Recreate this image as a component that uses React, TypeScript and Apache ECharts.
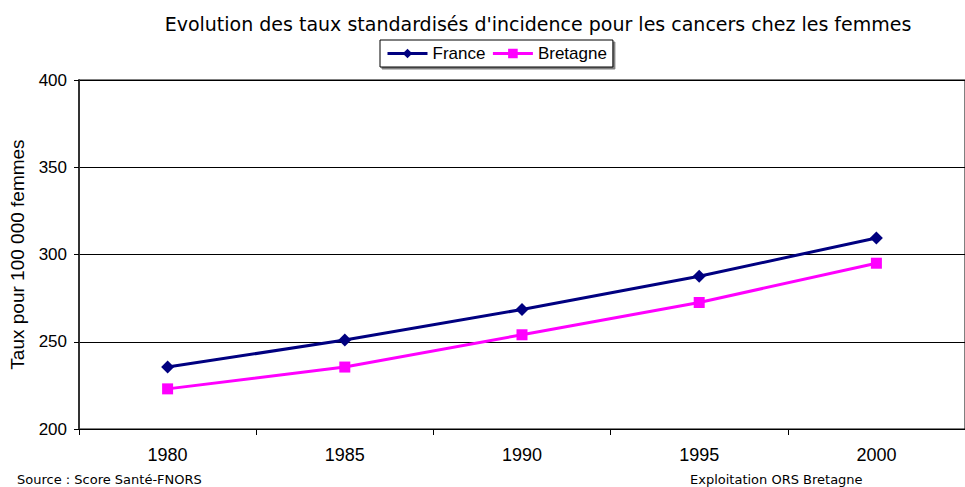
import React, { useEffect, useRef } from "react";
import * as echarts from "echarts";

const years = ["1980", "1985", "1990", "1995", "2000"];
const france = [235.5, 251, 268.5, 287.5, 309.5];
const bretagne = [223, 235.5, 254, 272.5, 295];
const yTicks = { min: 200, max: 400, interval: 50 };

export default function App() {
  const ref = useRef<HTMLDivElement>(null);
  useEffect(() => {
    const chart = echarts.init(ref.current!, null, { renderer: "svg" });
    chart.setOption({
      animation: false,
      backgroundColor: "#ffffff",
      title: {
        text: "Evolution des taux standardisés d'incidence pour les cancers chez les femmes",
        left: 533,
        textAlign: "center",
        top: 9,
        textStyle: { fontFamily: "DejaVu Sans", fontSize: 19, fontWeight: "normal", color: "#000" },
      },
      legend: {
        left: 380,
        top: 40,
        itemWidth: 40,
        itemHeight: 12,
        itemGap: 6,
        padding: [5, 6, 5, 6],
        borderColor: "#000",
        borderWidth: 1,
        shadowColor: "rgba(0,0,0,0.5)",
        shadowOffsetX: 2,
        shadowOffsetY: 2,
        backgroundColor: "#fff",
        lineStyle: { width: 3 },
        textStyle: { fontFamily: "Liberation Sans", fontSize: 17, color: "#000" },
        data: ["France", "Bretagne"],
      },
      graphic: [
        {
          type: "text",
          left: 17,
          top: 473,
          style: { text: "Source : Score Santé-FNORS", font: "13px 'DejaVu Sans'", fill: "#000" },
        },
        {
          type: "text",
          left: 690,
          top: 473,
          style: { text: "Exploitation ORS Bretagne", font: "13px 'DejaVu Sans'", fill: "#000" },
        },
      ],
      grid: { left: 77, top: 80, width: 892, height: 349, show: true, borderColor: "#000", borderWidth: 1 },
      xAxis: {
        type: "category",
        data: years,
        boundaryGap: true,
        axisLine: { lineStyle: { color: "#000", width: 1 } },
        axisTick: { show: true, interval: 0, length: 6, lineStyle: { color: "#000" } },
        axisLabel: { interval: 0, margin: 17, fontFamily: "Liberation Sans", fontSize: 18, color: "#000" },
      },
      yAxis: {
        type: "value",
        min: yTicks.min,
        max: yTicks.max,
        interval: yTicks.interval,
        name: "Taux pour 100 000 femmes",
        nameLocation: "middle",
        nameGap: 52,
        nameRotate: 90,
        nameTextStyle: { fontFamily: "Liberation Sans", fontSize: 19, color: "#000" },
        axisLine: { show: true, lineStyle: { color: "#333", width: 2 } },
        axisTick: { show: true, length: 5, lineStyle: { color: "#000" } },
        axisLabel: { margin: 12, fontFamily: "Liberation Sans", fontSize: 17, color: "#000" },
        splitLine: { show: true, lineStyle: { color: "#000", width: 1 } },
      },
      series: [
        {
          name: "France",
          type: "line",
          data: france,
          symbol: "diamond",
          symbolSize: 13,
          color: "#000080",
          lineStyle: { width: 3, color: "#000080" },
          itemStyle: { color: "#000080" },
        },
        {
          name: "Bretagne",
          type: "line",
          data: bretagne,
          symbol: "rect",
          symbolSize: 11,
          color: "#ff00ff",
          lineStyle: { width: 3, color: "#ff00ff" },
          itemStyle: { color: "#ff00ff" },
        },
      ],
    });
    return () => chart.dispose();
  }, []);
  return (
    <div
      ref={ref}
      style={{ position: "fixed", left: 0, top: 0, width: 965, height: 487 }}
    />
  );
}
